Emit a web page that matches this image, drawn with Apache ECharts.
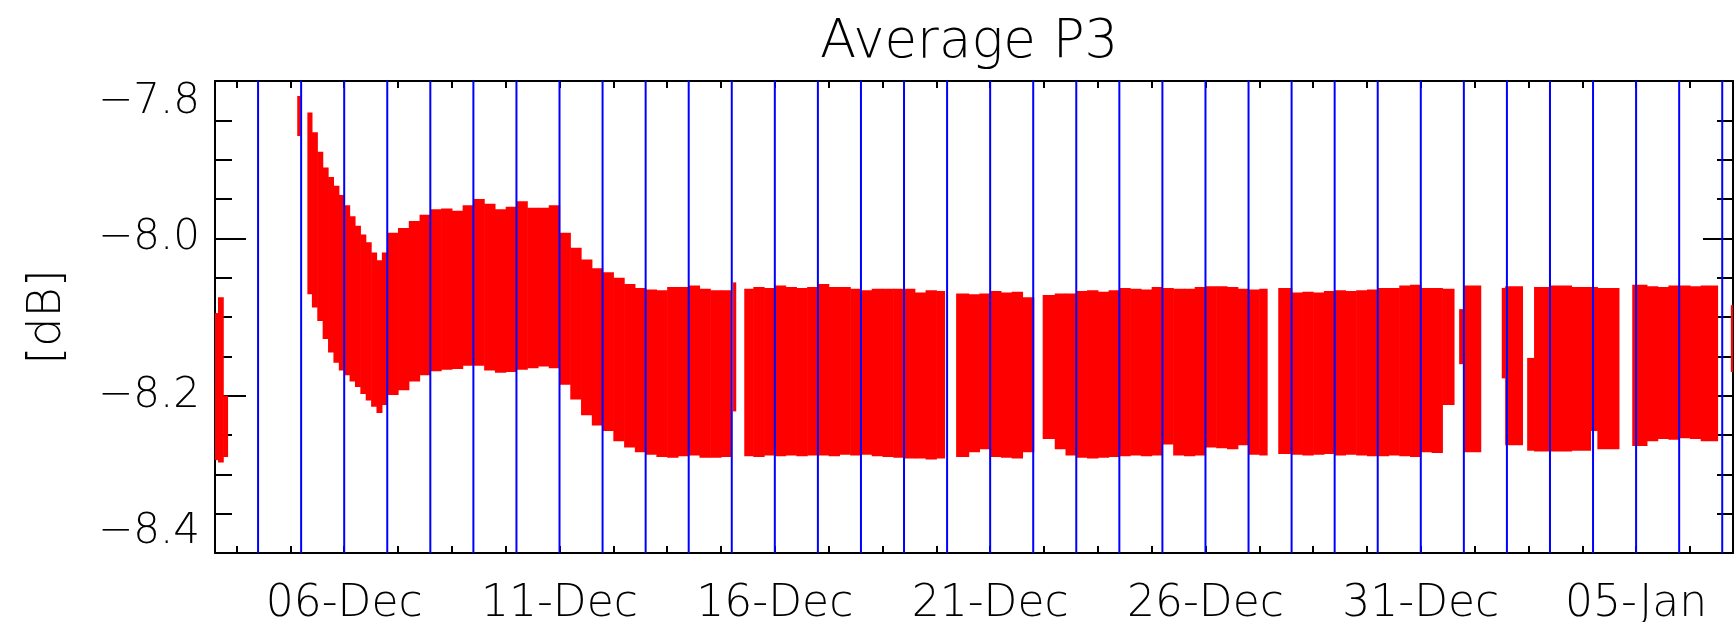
<!DOCTYPE html>
<html>
<head>
<meta charset="utf-8">
<title>Average P3</title>
<script src="https://cdn.jsdelivr.net/npm/echarts@6/dist/echarts.min.js"></script>
<style>
html, body { margin: 0; padding: 0; background: #fff; }
#chart { width: 1735px; height: 622px; }
</style>
</head>
<body>
<div id="chart"></div>
<script>
// time is in days counted from 01-Dec 00:00 (5 = 06-Dec, 35 = 05-Jan)
// each block runs from segT[i] to segT[i+1]; null = no data there
var segT = [
  2.00, 2.07, 2.19, 2.29,
  3.91, 3.97,
  4.145, 4.25, 4.375, 4.5, 4.625, 4.75, 4.875, 5.0, 5.125, 5.25, 5.375, 5.5, 5.625, 5.75, 5.875,
  6.0, 6.25, 6.5, 6.75, 7.0, 7.25, 7.5, 7.75, 8.0, 8.25, 8.5, 8.75, 9.0, 9.25, 9.5, 9.75,
  10.0, 10.25, 10.5, 10.75, 11.0, 11.25, 11.5, 11.75, 12.0, 12.25, 12.5, 12.75, 13.0, 13.25, 13.5, 13.75, 13.97,
  14.03, 14.09,
  14.29, 14.5, 14.75, 15.0, 15.25, 15.5, 15.75, 16.0, 16.25, 16.5, 16.75, 17.0, 17.25, 17.5, 17.75,
  18.0, 18.25, 18.5, 18.75, 18.94,
  19.21, 19.5, 19.75, 20.0, 20.25, 20.5, 20.75, 21.01,
  21.22, 21.5, 21.75, 22.0, 22.25, 22.5, 22.75, 23.0, 23.25, 23.5, 23.75, 24.0, 24.25, 24.5, 24.75,
  25.0, 25.25, 25.5, 25.75, 26.0, 26.25, 26.43,
  26.69, 27.0, 27.25, 27.5, 27.75, 28.0, 28.25, 28.5, 28.75, 29.0, 29.25, 29.5, 29.75,
  30.0, 30.25, 30.5, 30.77,
  30.89, 31.0, 31.39,
  31.88, 31.96, 32.36,
  32.47, 32.63, 33.0, 33.5, 33.94, 34.1, 34.6,
  34.91, 35.25, 35.5, 35.75, 36.0, 36.25, 36.5, 36.89,
  37.2, 37.25
];
var segLo = [
  -8.282, -8.285, -8.278, null,
  -7.870, null,
  -8.071, -8.088, -8.105, -8.128, -8.145, -8.158, -8.168, -8.174, -8.182, -8.189, -8.198, -8.206, -8.214, -8.222, -8.212,
  -8.199, -8.193, -8.182, -8.174, -8.169, -8.167, -8.166, -8.162, -8.162, -8.168, -8.171, -8.170, -8.167, -8.165, -8.163, -8.165,
  -8.186, -8.205, -8.225, -8.238, -8.245, -8.258, -8.266, -8.272, -8.275, -8.278, -8.279, -8.277, -8.276, -8.279, -8.279, -8.278, null,
  -8.220, null,
  -8.277, -8.278, -8.276, -8.277, -8.276, -8.277, -8.276, -8.276, -8.277, -8.275, -8.276, -8.275, -8.277, -8.278, -8.279,
  -8.280, -8.280, -8.281, -8.280, null,
  -8.278, -8.272, -8.268, -8.278, -8.279, -8.280, -8.272, null,
  -8.255, -8.268, -8.276, -8.279, -8.280, -8.279, -8.278, -8.277, -8.276, -8.277, -8.276, -8.262, -8.276, -8.277, -8.276,
  -8.266, -8.267, -8.268, -8.263, -8.275, -8.276, null,
  -8.274, -8.275, -8.276, -8.275, -8.274, -8.276, -8.275, -8.276, -8.277, -8.277, -8.276, -8.277, -8.278,
  -8.272, -8.273, -8.212, null,
  -8.160, -8.272, null,
  -8.178, -8.263, null,
  -8.270, -8.271, -8.271, -8.270, -8.245, -8.268, null,
  -8.264, -8.258, -8.255, -8.256, -8.254, -8.255, -8.258, null,
  -8.170, null
];
var segHi = [
  -8.095, -8.075, -8.200, null,
  -7.819, null,
  -7.840, -7.865, -7.890, -7.910, -7.922, -7.933, -7.945, -7.958, -7.972, -7.984, -7.995, -8.005, -8.018, -8.028, -8.018,
  -7.993, -7.987, -7.978, -7.970, -7.963, -7.962, -7.965, -7.958, -7.950, -7.956, -7.963, -7.960, -7.953, -7.961, -7.961, -7.958,
  -7.993, -8.012, -8.027, -8.038, -8.043, -8.050, -8.058, -8.063, -8.065, -8.066, -8.062, -8.062, -8.060, -8.064, -8.066, -8.066, null,
  -8.056, null,
  -8.064, -8.062, -8.063, -8.060, -8.062, -8.063, -8.062, -8.058, -8.062, -8.062, -8.064, -8.066, -8.064, -8.064, -8.064,
  -8.064, -8.069, -8.066, -8.067, null,
  -8.070, -8.071, -8.070, -8.067, -8.069, -8.068, -8.075, null,
  -8.072, -8.070, -8.070, -8.067, -8.066, -8.068, -8.066, -8.063, -8.064, -8.065, -8.062, -8.063, -8.064, -8.064, -8.062,
  -8.061, -8.061, -8.062, -8.064, -8.065, -8.064, null,
  -8.063, -8.069, -8.068, -8.069, -8.067, -8.066, -8.067, -8.066, -8.065, -8.063, -8.063, -8.060, -8.059,
  -8.063, -8.063, -8.064, null,
  -8.090, -8.060, null,
  -8.063, -8.061, null,
  -8.152, -8.062, -8.060, -8.062, -8.062, -8.063, null,
  -8.059, -8.061, -8.062, -8.060, -8.060, -8.061, -8.060, null,
  -8.085, null
];
// blue day marks, 04-Dec .. 07-Jan at midnight
var dayLines = [3, 4, 5, 6, 7, 8, 9, 10, 11, 12, 13, 14, 15, 16, 17, 18, 19, 20,
  21, 22, 23, 24, 25, 26, 27, 28, 29, 30, 31, 32, 33, 34, 35, 36, 37];
var xTickDays = [2.5, 3.75, 5, 6.25, 7.5, 8.75, 10, 11.25, 12.5, 13.75, 15, 16.25, 17.5, 18.75,
  20, 21.25, 22.5, 23.75, 25, 26.25, 27.5, 28.75, 30, 31.25, 32.5, 33.75, 35, 36.25];
var xLabelDays = [5, 10, 15, 20, 25, 30, 35];
var xLabelText = ['06-Dec', '11-Dec', '16-Dec', '21-Dec', '26-Dec', '31-Dec', '05-Jan'];

var xMin = 2, xMax = 37.25;
var yMin = -8.4, yMax = -7.8;
var FONT = 'DejaVu Sans';
var WEIGHT = 200;

var bandRows = [];
for (var i = 0; i < segT.length - 1; i++) {
  if (segLo[i] == null) continue;
  bandRows.push([segT[i], segT[i + 1], segLo[i], segHi[i]]);
}
var lineRows = dayLines.map(function (d) { return [d]; });

function yLabel(v) {
  var s = Math.abs(v).toFixed(1);
  return v < 0 ? '\u2212' + s : s;
}
function xLabel(v) {
  var i = xLabelDays.indexOf(Math.round(v * 100) / 100);
  return i < 0 ? '' : xLabelText[i];
}

var black = '#000000';
var axisLine = { show: true, onZero: false, lineStyle: { color: black, width: 2 } };

var chart = echarts.init(document.getElementById('chart'), null, { renderer: 'canvas' });
chart.setOption({
  backgroundColor: '#ffffff',
  animation: false,
  title: {
    text: 'Average P3',
    left: 815,
    top: 12,
    textStyle: { fontFamily: FONT, fontSize: 53, fontWeight: WEIGHT, color: black }
  },
  grid: { left: 215, right: 2, top: 81, bottom: 69, containLabel: false, outerBoundsMode: 'none' },
  xAxis: [{
    type: 'value', position: 'bottom', min: xMin, max: xMax,
    axisLine: axisLine,
    axisTick: { show: true, inside: true, length: 7, customValues: xTickDays, lineStyle: { color: black, width: 2 } },
    axisLabel: { show: true, customValues: xLabelDays, formatter: xLabel, margin: 30,
      fontFamily: FONT, fontSize: 44, fontWeight: WEIGHT, color: black },
    splitLine: { show: false }
  }, {
    type: 'value', position: 'top', min: xMin, max: xMax,
    axisLine: axisLine,
    axisTick: { show: true, inside: true, length: 7, customValues: xTickDays, lineStyle: { color: black, width: 2 } },
    axisLabel: { show: false },
    splitLine: { show: false }
  }],
  yAxis: [{
    type: 'value', position: 'left', min: yMin, max: yMax, interval: 0.2,
    axisLine: axisLine,
    axisTick: { show: true, inside: true, length: 31, lineStyle: { color: black, width: 2 } },
    minorTick: { show: true, splitNumber: 4, length: 17, lineStyle: { color: black, width: 2 } },
    axisLabel: { formatter: yLabel, margin: 15, fontFamily: FONT, fontSize: 42, fontWeight: WEIGHT, color: black,
      verticalAlignMinLabel: 'bottom', verticalAlignMaxLabel: 'top' },
    splitLine: { show: false },
    name: '[dB]', nameLocation: 'middle', nameGap: 144, nameRotate: 90,
    nameTextStyle: { fontFamily: FONT, fontSize: 46, fontWeight: WEIGHT, color: black }
  }, {
    type: 'value', position: 'right', min: yMin, max: yMax, interval: 0.2,
    axisLine: axisLine,
    axisTick: { show: true, inside: true, length: 30, lineStyle: { color: black, width: 2 } },
    minorTick: { show: true, splitNumber: 4, length: 16, lineStyle: { color: black, width: 2 } },
    axisLabel: { show: false },
    splitLine: { show: false }
  }],
  series: [{
    name: 'P3',
    type: 'custom',
    xAxisIndex: 0, yAxisIndex: 0,
    clip: true,
    encode: { x: [0, 1], y: [2, 3] },
    data: bandRows,
    renderItem: function (params, api) {
      var a = api.coord([api.value(0), api.value(3)]);
      var b = api.coord([api.value(1), api.value(2)]);
      return {
        type: 'rect',
        shape: { x: a[0], y: a[1], width: b[0] - a[0] + 0.6, height: b[1] - a[1] },
        style: { fill: '#ff0000' }
      };
    },
    z: 2
  }, {
    name: 'days',
    type: 'custom',
    xAxisIndex: 0, yAxisIndex: 0,
    encode: { x: 0 },
    data: lineRows,
    renderItem: function (params, api) {
      var t = api.coord([api.value(0), yMax]);
      var b = api.coord([api.value(0), yMin]);
      return {
        type: 'line',
        shape: { x1: t[0], y1: t[1], x2: b[0], y2: b[1] },
        style: { stroke: '#0000ff', lineWidth: 2 }
      };
    },
    z: 3
  }]
});
</script>
</body>
</html>
